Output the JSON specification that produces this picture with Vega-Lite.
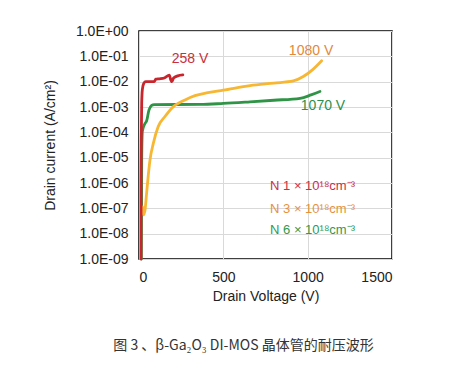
{
  "$schema": "https://vega.github.io/schema/vega-lite/v6.json",
  "autosize": "none",
  "width": 253,
  "height": 228,
  "padding": {"left": 139, "top": 31, "right": 68, "bottom": 115},
  "background": "white",
  "config": {
    "view": {"stroke": "#000000", "strokeWidth": 1.5},
    "font": "Liberation Sans"
  },
  "title": {
    "text": "图 3 、β-Ga₂O₃ DI-MOS 晶体管的耐压波形",
    "orient": "bottom",
    "anchor": "middle",
    "frame": "group",
    "dx": -22,
    "offset": 36,
    "font": "Noto Sans CJK SC",
    "fontSize": 14,
    "fontWeight": "normal",
    "color": "#333333"
  },
  "datasets": {
    "curves": [
      {"s": "N6", "i": 1, "v": 14, "c": 1e-9},
      {"s": "N6", "i": 2, "v": 16, "c": 1e-5},
      {"s": "N6", "i": 3, "v": 20, "c": 1.1e-4},
      {"s": "N6", "i": 4, "v": 35, "c": 2.2e-4},
      {"s": "N6", "i": 5, "v": 45, "c": 2.8e-4},
      {"s": "N6", "i": 6, "v": 59, "c": 7.5e-4},
      {"s": "N6", "i": 7, "v": 75, "c": 1.15e-3},
      {"s": "N6", "i": 8, "v": 90, "c": 1.25e-3},
      {"s": "N6", "i": 9, "v": 362, "c": 1.26e-3},
      {"s": "N6", "i": 10, "v": 500, "c": 1.38e-3},
      {"s": "N6", "i": 11, "v": 658, "c": 1.6e-3},
      {"s": "N6", "i": 12, "v": 800, "c": 1.85e-3},
      {"s": "N6", "i": 13, "v": 955, "c": 2.2e-3},
      {"s": "N6", "i": 14, "v": 1020, "c": 3e-3},
      {"s": "N6", "i": 15, "v": 1073, "c": 4.1e-3},
      {"s": "N3", "i": 1, "v": 20, "c": 1.15e-7},
      {"s": "N3", "i": 2, "v": 26, "c": 5.5e-8},
      {"s": "N3", "i": 3, "v": 35, "c": 8e-8},
      {"s": "N3", "i": 4, "v": 45, "c": 3.9e-7},
      {"s": "N3", "i": 5, "v": 55, "c": 2e-6},
      {"s": "N3", "i": 6, "v": 65, "c": 8e-6},
      {"s": "N3", "i": 7, "v": 85, "c": 3.7e-5},
      {"s": "N3", "i": 8, "v": 114, "c": 1.7e-4},
      {"s": "N3", "i": 9, "v": 154, "c": 4.2e-4},
      {"s": "N3", "i": 10, "v": 194, "c": 9e-4},
      {"s": "N3", "i": 11, "v": 273, "c": 1.9e-3},
      {"s": "N3", "i": 12, "v": 332, "c": 2.8e-3},
      {"s": "N3", "i": 13, "v": 400, "c": 3.6e-3},
      {"s": "N3", "i": 14, "v": 500, "c": 4.6e-3},
      {"s": "N3", "i": 15, "v": 658, "c": 7e-3},
      {"s": "N3", "i": 16, "v": 800, "c": 8.8e-3},
      {"s": "N3", "i": 17, "v": 915, "c": 1.07e-2},
      {"s": "N3", "i": 18, "v": 974, "c": 1.6e-2},
      {"s": "N3", "i": 19, "v": 1030, "c": 3e-2},
      {"s": "N3", "i": 20, "v": 1083, "c": 6.7e-2},
      {"s": "N1", "i": 1, "v": 12, "c": 1e-9},
      {"s": "N1", "i": 2, "v": 12, "c": 1e-6},
      {"s": "N1", "i": 3, "v": 14, "c": 1e-4},
      {"s": "N1", "i": 4, "v": 16, "c": 1.4e-3},
      {"s": "N1", "i": 5, "v": 20, "c": 5e-3},
      {"s": "N1", "i": 6, "v": 28, "c": 8.5e-3},
      {"s": "N1", "i": 7, "v": 40, "c": 1e-2},
      {"s": "N1", "i": 8, "v": 90, "c": 1e-2},
      {"s": "N1", "i": 9, "v": 100, "c": 1.25e-2},
      {"s": "N1", "i": 10, "v": 120, "c": 1.3e-2},
      {"s": "N1", "i": 11, "v": 150, "c": 1.4e-2},
      {"s": "N1", "i": 12, "v": 180, "c": 1.8e-2},
      {"s": "N1", "i": 13, "v": 188, "c": 1.2e-2},
      {"s": "N1", "i": 14, "v": 195, "c": 1e-2},
      {"s": "N1", "i": 15, "v": 205, "c": 1.4e-2},
      {"s": "N1", "i": 16, "v": 230, "c": 1.7e-2},
      {"s": "N1", "i": 17, "v": 260, "c": 1.85e-2}
    ],
    "labels": [
      {"s": "N1", "v": 302, "c": 0.0785, "t": "258 V"},
      {"s": "N3", "v": 1020, "c": 0.162, "t": "1080 V"},
      {"s": "N6", "v": 1091, "c": 0.0011, "t": "1070 V"}
    ],
    "legend": [
      {"s": "N1", "v": 777, "c": 7.6e-7, "t": "N 1 × 10¹⁸cm⁻³"},
      {"s": "N3", "v": 777, "c": 9.4e-8, "t": "N 3 × 10¹⁸cm⁻³"},
      {"s": "N6", "v": 777, "c": 1.39e-8, "t": "N 6 × 10¹⁸cm⁻³"}
    ]
  },
  "resolve": {"scale": {"color": "independent"}},
  "layer": [
    {
      "data": {"name": "curves"},
      "mark": {"type": "line", "strokeWidth": 2.8, "strokeJoin": "round", "strokeCap": "round", "interpolate": "monotone"},
      "encoding": {
        "x": {
          "field": "v", "type": "quantitative",
          "scale": {"domain": [0, 1500], "nice": false},
          "axis": {
            "values": [0, 500, 1000, 1500],
            "format": "d",
            "title": "Drain Voltage (V)",
            "titleFont": "Liberation Sans", "titleFontSize": 14, "titleFontWeight": "normal", "titleColor": "#222222",
            "titlePadding": 5,
            "labelFont": "Liberation Sans", "labelFontSize": 14, "labelColor": "#222222",
            "labelPadding": 11,
            "ticks": false, "domain": false,
            "gridColor": "#d9d9d9", "gridWidth": 1
          }
        },
        "y": {
          "field": "c", "type": "quantitative",
          "scale": {"type": "log", "domain": [1e-9, 1], "nice": false},
          "axis": {
            "values": [1e-9, 1e-8, 1e-7, 1e-6, 1e-5, 1e-4, 1e-3, 1e-2, 1e-1, 1],
            "labelExpr": "datum.value >= 0.5 ? '1.0E+00' : '1.0E-0' + round(-log(datum.value) / LN10)",
            "title": "Drain current (A/cm²)",
            "titleFont": "Liberation Sans", "titleFontSize": 14, "titleFontWeight": "normal", "titleColor": "#222222",
            "titlePadding": 18,
            "labelFont": "Liberation Sans", "labelFontSize": 14, "labelColor": "#222222",
            "labelPadding": 11,
            "ticks": false, "domain": false,
            "gridColor": "#d9d9d9", "gridWidth": 1
          }
        },
        "color": {
          "field": "s", "type": "nominal",
          "scale": {"domain": ["N6", "N3", "N1"], "range": ["#2f9445", "#f7b733", "#c9252c"]},
          "legend": null
        },
        "order": {"field": "i", "type": "quantitative"}
      }
    },
    {
      "data": {"name": "labels"},
      "mark": {"type": "text", "font": "Liberation Sans", "fontSize": 14, "align": "center", "baseline": "middle"},
      "encoding": {
        "x": {"field": "v", "type": "quantitative"},
        "y": {"field": "c", "type": "quantitative"},
        "text": {"field": "t"},
        "color": {
          "field": "s", "type": "nominal",
          "scale": {"domain": ["N1", "N3", "N6"], "range": ["#c8303a", "#e2893a", "#2e8f4c"]},
          "legend": null
        }
      }
    },
    {
      "data": {"name": "legend"},
      "mark": {"type": "text", "font": "Liberation Sans", "fontSize": 13, "align": "left", "baseline": "middle"},
      "encoding": {
        "x": {"field": "v", "type": "quantitative"},
        "y": {"field": "c", "type": "quantitative"},
        "text": {"field": "t"},
        "color": {
          "field": "s", "type": "nominal",
          "scale": {"domain": ["N1", "N3", "N6"], "range": ["#c8304a", "#e8913c", "#2e9a4e"]},
          "legend": null
        }
      }
    }
  ]
}
